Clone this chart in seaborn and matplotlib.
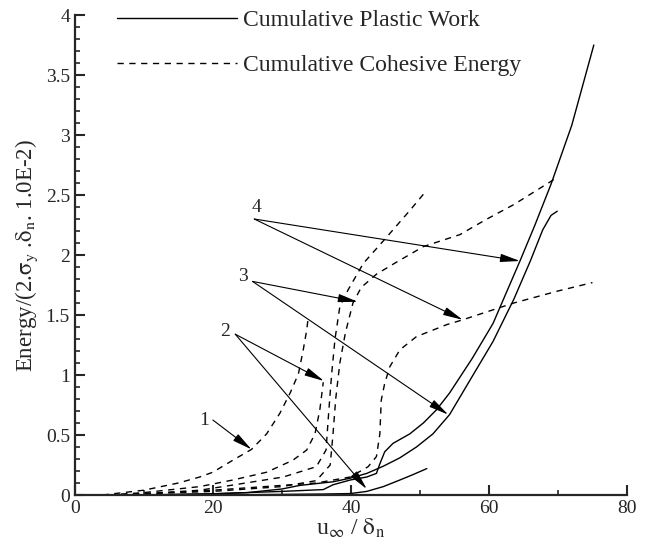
import matplotlib
matplotlib.use("Agg")
import numpy as np
import seaborn as sns
from matplotlib import pyplot as plt
from matplotlib.lines import Line2D
from matplotlib.ticker import MultipleLocator, FuncFormatter

# cumulative cohesive energy (dashed)
d1_x = [4, 10, 15, 18.1, 20, 22.9, 25.6, 27.8, 29.7, 31.2, 32.4, 33.1, 33.6, 33.8]
d1_y = [0, 0.04, 0.1, 0.15, 0.19, 0.29, 0.38, 0.51, 0.68, 0.85, 1.01, 1.21, 1.375, 1.47]
d2_x = [5, 10, 18.1, 22.9, 27.8, 31.6, 33.6, 34.8, 35.5, 36.0]
d2_y = [0, 0.02, 0.07, 0.125, 0.19, 0.29, 0.375, 0.51, 0.71, 0.94]
d3_x = [5, 10, 18.1, 22.9, 30.2, 35.0, 36.4, 36.8, 37.2, 37.7, 38.4, 39.6, 41.8, 45.2, 48.6, 51.0]
d3_y = [0, 0.01, 0.04, 0.083, 0.15, 0.236, 0.375, 0.7, 1.0, 1.3, 1.57, 1.71, 1.93, 2.15, 2.375, 2.54]
d4_x = [5, 10, 20, 30, 35, 37.0, 37.4, 37.8, 38.4, 39.2, 40.3, 41.5, 43.7, 46.6, 50.5, 55.8, 59.4, 63.6, 70]
d4_y = [0, 0.01, 0.03, 0.07, 0.12, 0.25, 0.5, 0.8, 1.1, 1.35, 1.6, 1.73, 1.84, 1.94, 2.07, 2.17, 2.29, 2.42, 2.65]
d5_x = [5, 10, 20, 30, 35, 39.9, 42.5, 43.7, 44.2, 44.4, 44.9, 45.65, 47.1, 49.5, 53.9, 56.2, 63.6, 70, 75]
d5_y = [0, 0.01, 0.04, 0.08, 0.1, 0.15, 0.236, 0.32, 0.51, 0.79, 0.93, 1.07, 1.21, 1.32, 1.42, 1.46, 1.60, 1.70, 1.77]

# cumulative plastic work (solid)
s1_x = [10, 20, 30, 36.0, 37.4, 39.9, 42.3, 43.7, 44.2, 44.9, 46.1, 48.55, 50.5, 52.4, 54.3, 57.6, 60.6,
        64.5, 66.6, 69.0, 72.0, 75.2]
s1_y = [0, 0.01, 0.03, 0.045, 0.085, 0.125, 0.15, 0.18, 0.26, 0.36, 0.43, 0.51, 0.6, 0.71, 0.85, 1.14, 1.43,
        1.95, 2.24, 2.59, 3.08, 3.75]
s2_x = [10, 20, 25, 30, 32.6, 37.4, 39.9, 42.3, 44.7, 47.1, 49.5, 51.9, 54.3, 57.6, 60.6, 63.6, 66.0, 67.8,
        69.0, 69.9]
s2_y = [0, 0.01, 0.02, 0.05, 0.08, 0.11, 0.14, 0.18, 0.24, 0.31, 0.40, 0.51, 0.67, 0.99, 1.28, 1.63, 1.95, 2.21,
        2.33, 2.365]
s3_x = [20, 30, 36, 39.9, 42.3, 44.7, 47.1, 49, 51.0]
s3_y = [0, 0.005, 0.008, 0.012, 0.03, 0.07, 0.125, 0.17, 0.22]

# case labels and their arrows
labels = ["1", "2", "3", "4"]
label_pos = [(18.7, 0.62), (21.8, 1.36), (24.3, 1.82), (26.3, 2.40)]
arrow_start = [(20.0, 0.625), (23.25, 1.34), (25.75, 1.78), (26.0, 2.30)]
arrow_tips = [[(25.6, 0.38)],
              [(36.1, 0.95), (42.3, 0.05)],
              [(41.0, 1.61), (54.1, 0.67)],
              [(64.5, 1.95), (56.2, 1.46)]]

legend_labels = ["Cumulative Plastic Work", "Cumulative Cohesive Energy"]


def plot_energy(file_name):
    sns.set_style("ticks")
    plt.rcParams['font.family'] = ['Liberation Serif', 'DejaVu Serif']
    plt.rcParams['mathtext.fontset'] = 'stix'

    fig, ax = plt.subplots(figsize=(6.45, 5.46), dpi=100)
    fig.subplots_adjust(left=0.116, right=0.972, bottom=0.0934, top=0.9725)

    dash = (0, (4.5, 4.0))
    for xs, ys in [(d1_x, d1_y), (d2_x, d2_y), (d3_x, d3_y), (d4_x, d4_y), (d5_x, d5_y)]:
        sns.lineplot(x=xs, y=ys, ax=ax, color="black", lw=1.0, sort=False, estimator=None, legend=False,
                     linestyle=dash)
    for xs, ys in [(s1_x, s1_y), (s2_x, s2_y), (s3_x, s3_y)]:
        sns.lineplot(x=xs, y=ys, ax=ax, color="black", lw=1.0, sort=False, estimator=None, legend=False)

    for lab, pos, start, tips in zip(labels, label_pos, arrow_start, arrow_tips):
        ax.text(pos[0], pos[1], lab, fontsize=14, ha="center", va="center")
        for tip in tips:
            ax.annotate("", xy=tip, xytext=start,
                        arrowprops=dict(arrowstyle="-|>,head_length=1.2,head_width=0.25", color="black",
                                        lw=0.8, shrinkA=0, shrinkB=0, mutation_scale=10))

    handles = [Line2D([], [], color="black", lw=1.0),
               Line2D([], [], color="black", lw=1.0, linestyle=dash)]
    ax.legend(handles, legend_labels, loc="upper left", bbox_to_anchor=(0.1814, 0.983),
              bbox_transform=fig.transFigure, frameon=False, fontsize=17, borderpad=0,
              handlelength=5.1, handletextpad=0.25, labelspacing=1.0, borderaxespad=0)

    ax.set_xlim(0, 80)
    ax.set_ylim(0, 4)
    ax.xaxis.set_major_locator(MultipleLocator(20))
    ax.xaxis.set_minor_locator(MultipleLocator(10))
    ax.yaxis.set_major_locator(MultipleLocator(0.5))
    ax.yaxis.set_minor_locator(MultipleLocator(0.1))
    ax.yaxis.set_major_formatter(FuncFormatter(lambda v, p: "%g" % v))
    ax.tick_params(which="major", direction="in", length=7, width=1.5, labelsize=14)
    ax.tick_params(which="minor", direction="in", length=3.5, width=1.2)
    sns.despine(ax=ax)
    for side in ["left", "bottom"]:
        ax.spines[side].set_linewidth(1.6)

    ax.set_xlabel(r"u$_\infty$ / $\mathrm{\delta}_\mathrm{n}$", fontsize=17, labelpad=0)
    ax.set_ylabel(r"Energy/(2.$\mathrm{\sigma}_\mathrm{y}$ .$\mathrm{\delta}_\mathrm{n}$. 1.0E-2)",
                  fontsize=16.5, labelpad=4)

    plt.savefig(file_name, dpi=100)


def main():
    plot_energy("out.png")


if __name__ == "__main__":
    main()
